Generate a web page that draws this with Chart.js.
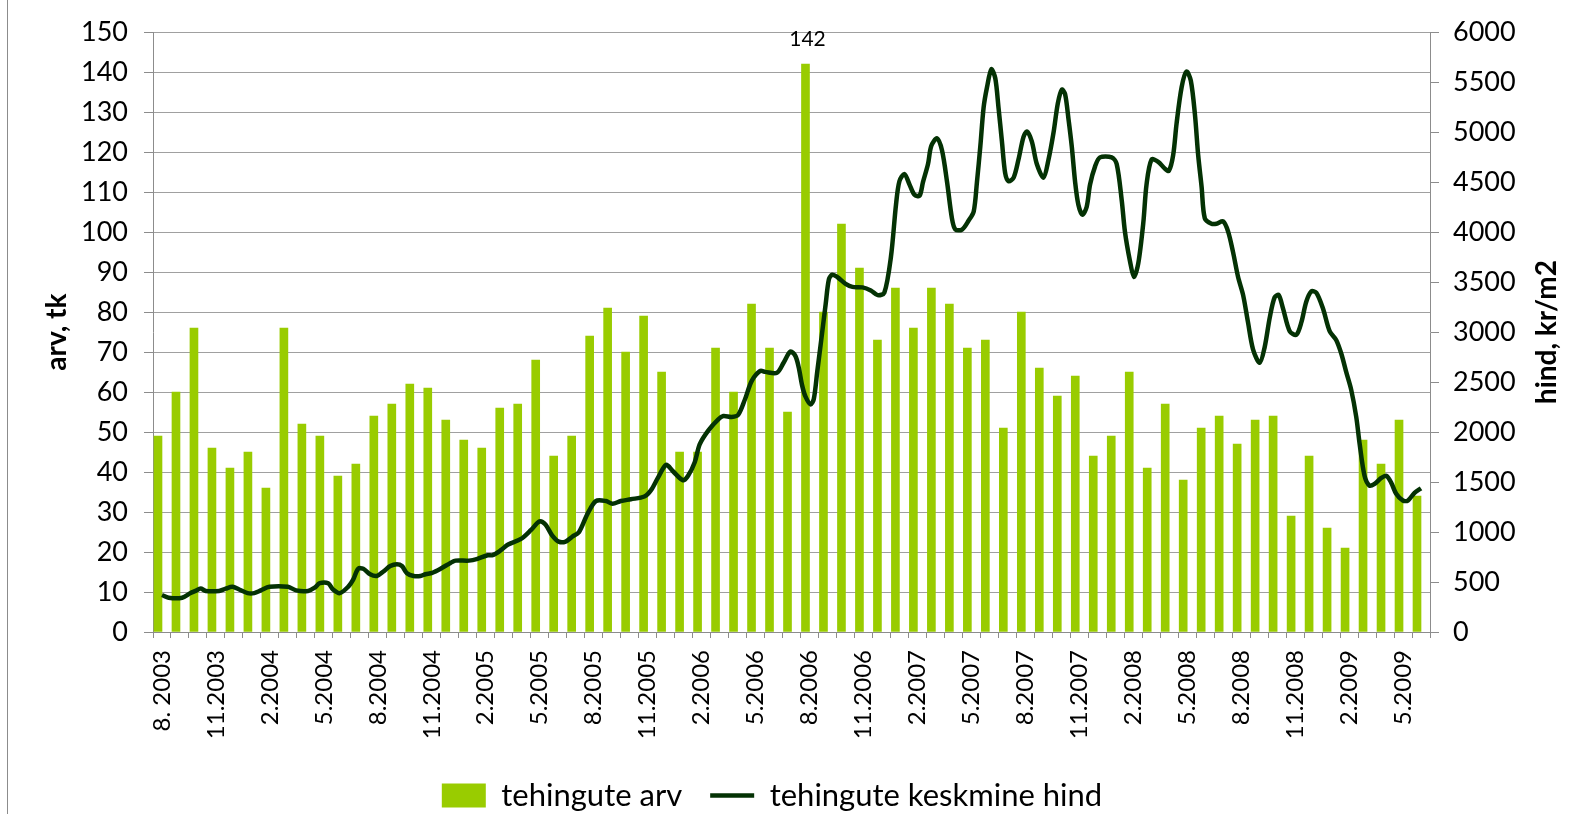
<!DOCTYPE html>
<html>
<head>
<meta charset="utf-8">
<title>tehingute arv ja keskmine hind</title>
<script src="https://cdn.jsdelivr.net/npm/chart.js@4.4.1/dist/chart.umd.min.js"></script>
<style>
  html, body { margin: 0; padding: 0; background: #fff; overflow: hidden; }
  #wrap { position: relative; width: 1582px; height: 814px; }
  #edge { position: absolute; left: 7px; top: 0; width: 1px; height: 814px; background: #8c8c8c; }
  canvas { position: absolute; left: 0; top: 0; }
</style>
</head>
<body>
<div id="wrap">
  <div id="edge"></div>
  <canvas id="myChart" width="1582" height="814"></canvas>
</div>
<script>
// months 8.2003 ... 6.2009
const months = [
  "8. 2003","9.2003","10.2003","11.2003","12.2003",
  "1.2004","2.2004","3.2004","4.2004","5.2004","6.2004","7.2004","8.2004","9.2004","10.2004","11.2004","12.2004",
  "1.2005","2.2005","3.2005","4.2005","5.2005","6.2005","7.2005","8.2005","9.2005","10.2005","11.2005","12.2005",
  "1.2006","2.2006","3.2006","4.2006","5.2006","6.2006","7.2006","8.2006","9.2006","10.2006","11.2006","12.2006",
  "1.2007","2.2007","3.2007","4.2007","5.2007","6.2007","7.2007","8.2007","9.2007","10.2007","11.2007","12.2007",
  "1.2008","2.2008","3.2008","4.2008","5.2008","6.2008","7.2008","8.2008","9.2008","10.2008","11.2008","12.2008",
  "1.2009","2.2009","3.2009","4.2009","5.2009","6.2009"
];

// deals per month
const dealCounts = [
  49, 60, 76, 46, 41,
  45, 36, 76, 52, 49, 39, 42, 54, 57, 62, 61, 53,
  48, 46, 56, 57, 68, 44, 49, 74, 81, 70, 79, 65,
  45, 45, 71, 60, 82, 71, 55, 142, 80, 102, 91, 73,
  86, 76, 86, 82, 71, 73, 51, 80, 66, 59, 64, 44,
  49, 65, 41, 57, 38, 51, 54, 47, 53, 54, 29, 44,
  26, 21, 48, 42, 53, 34
];

// average price, kr/m2 (position in months from 8.2003)
const priceMonth = [
  0, 0.37, 1.12, 1.59, 1.87, 2.15, 2.43, 3.17, 3.54, 3.92, 4.29, 4.76, 5.13, 5.5, 5.97, 7.0, 7.46,
  8.12, 8.49, 8.77, 9.24, 9.51, 9.89, 10.35, 10.63, 10.91, 11.19, 11.57, 11.94, 12.31, 12.69, 13.06,
  13.34, 13.62, 13.99, 14.37, 14.65, 15.02, 15.49, 16.04, 16.32, 17.07, 17.54, 18.1, 18.38, 18.84,
  19.22, 19.96, 20.52, 20.99,
  21.32, 21.69, 22.06, 22.44, 22.81, 23.18, 23.65, 24.12, 24.68, 25.05, 25.51, 26.07, 26.82, 27.19,
  27.57, 28.03, 28.41, 28.97, 29.25, 29.62, 29.9, 30.37, 30.93, 31.21, 31.67, 32.04, 32.42, 32.79,
  33.26, 33.54, 34.19, 34.56, 34.94, 35.22, 35.4, 35.59, 35.78, 36.06, 36.24, 36.43, 36.62, 36.9,
  37.08, 37.27, 37.55, 38.01, 38.39, 38.95, 39.41, 39.79, 40.16, 40.53, 40.81, 41.0, 41.28, 41.56,
  41.84, 42.12, 42.31, 42.59, 42.77, 43.09,
  43.37, 43.65, 43.92, 44.11, 44.48, 44.85, 45.13, 45.31, 45.5, 45.68, 45.87, 46.11, 46.33, 46.51,
  46.7, 46.88, 47.07, 47.35, 47.62, 47.9, 48.09, 48.36, 48.64, 49.01, 49.29, 49.57, 49.81, 50.03,
  50.21, 50.4, 50.58, 50.77, 50.95, 51.17, 51.41, 51.6, 51.88, 52.15, 52.8, 53.08, 53.36, 53.54,
  53.82, 54.04, 54.28, 54.56, 54.74, 55.02, 55.39, 55.76, 55.98, 56.22, 56.41, 56.69, 56.96, 57.2,
  57.43, 57.61, 57.8, 57.98, 58.35, 58.63, 59.0, 59.28, 59.55, 59.83, 60.11, 60.38, 60.66, 61.03,
  61.31, 61.59, 61.86, 62.09, 62.33, 62.7, 63.07, 63.35, 63.62, 63.9, 64.18, 64.55, 64.92, 65.29,
  65.57, 65.84, 66.12, 66.4, 66.59, 66.86, 67.14, 67.42, 67.79, 68.07, 68.34, 68.62, 68.99, 69.27,
  69.64, 70.0
];
const priceValue = [
  370, 343, 343, 389, 411, 434, 411, 411, 434, 452, 425, 389, 389, 416, 452, 452, 416,
  411, 443, 488, 488, 425, 389, 452, 524, 633, 633, 578, 560, 605, 660, 678,
  660, 587, 560, 560, 578, 592, 633, 691, 714, 714, 732, 768, 768, 818,
  872, 931, 1021, 1107,
  1075, 967, 904, 904, 953, 998, 1179, 1310, 1310, 1283, 1310, 1328, 1355, 1419,
  1541, 1672, 1608, 1518, 1563, 1699, 1879, 2015, 2128, 2160, 2151, 2173, 2331, 2512,
  2611, 2602, 2593, 2693, 2806, 2760, 2648, 2467, 2354, 2277, 2331, 2602, 2873, 3280,
  3529, 3574, 3551, 3483, 3452, 3447, 3416, 3370, 3393, 3755, 4274, 4509, 4581, 4477,
  4373, 4364, 4500, 4681, 4861, 4938,
  4816, 4500, 4138, 4026, 4026, 4116, 4206, 4500, 4861, 5245, 5449, 5629, 5539, 5245,
  4907, 4590, 4509, 4545, 4726, 4952, 5006, 4907, 4681, 4545, 4726, 4997, 5290, 5426,
  5381, 5132, 4861, 4500, 4274, 4175, 4252, 4477, 4658, 4748, 4748, 4681, 4319, 4003,
  3709, 3551, 3687, 4093, 4477, 4726, 4703, 4635, 4613, 4771, 5087, 5449, 5607, 5517,
  5178, 4771, 4455, 4138, 4084, 4084, 4107, 4003, 3800, 3551, 3370, 3099, 2828, 2693,
  2851, 3145, 3348, 3370, 3235, 3009, 2973, 3099, 3303, 3407, 3393, 3235, 3009, 2919,
  2783, 2602, 2422, 2151, 1879, 1563, 1464, 1482, 1541, 1563, 1495, 1383, 1315, 1315,
  1392, 1437
];

const countAxis = { min: 0, max: 150, step: 10 };
const priceAxis = { min: 0, max: 6000, step: 500 };

const FONT = "Lato";
const AXIS_GRAY = "#8c8c8c";

// value label over the tallest bar
const peakLabel = {
  id: "peakLabel",
  afterDatasetsDraw(chart) {
    const meta = chart.getDatasetMeta(0);
    const i = dealCounts.indexOf(Math.max(...dealCounts));
    const bar = meta.data[i];
    const ctx = chart.ctx;
    ctx.save();
    ctx.font = "21px " + FONT;
    ctx.fillStyle = "#000";
    ctx.textAlign = "center";
    ctx.textBaseline = "bottom";
    ctx.fillText(String(dealCounts[i]), bar.x + 2, bar.y - 14);
    ctx.restore();
  }
};

// right axis title, reading bottom to top like the left one
const rightTitle = {
  id: "rightTitle",
  afterDraw(chart) {
    const ctx = chart.ctx;
    const area = chart.chartArea;
    ctx.save();
    ctx.translate(chart.width - 35, (area.top + area.bottom) / 2);
    ctx.rotate(-Math.PI / 2);
    ctx.font = "bold 28px " + FONT;
    ctx.fillStyle = "#000";
    ctx.textAlign = "center";
    ctx.textBaseline = "middle";
    ctx.fillText("hind, kr/m2", 0, 0);
    ctx.restore();
  }
};

const ctx = document.getElementById("myChart");
const PLOT_BOTTOM = 632;
const PAD_BOTTOM = -7;

new Chart(ctx, {
  type: "bar",
  data: {
    labels: months,
    datasets: [
      {
        label: "tehingute arv",
        data: dealCounts,
        backgroundColor: "#99cc00",
        borderWidth: 0,
        barThickness: 8,
        xAxisID: "x",
        yAxisID: "y",
        pointStyle: "rect",
        order: 2
      },
      {
        type: "line",
        label: "tehingute keskmine hind",
        data: priceMonth.map((m, i) => ({ x: m, y: priceValue[i] })),
        borderColor: "#043204",
        backgroundColor: "#043204",
        borderWidth: 4.5,
        pointRadius: 0,
        tension: 0.3,
        xAxisID: "xl",
        yAxisID: "y2",
        pointStyle: "line",
        order: 1
      }
    ]
  },
  options: {
    responsive: false,
    devicePixelRatio: 1,
    animation: false,
    layout: { padding: { top: 22, left: 0, right: 38, bottom: PAD_BOTTOM } },
    plugins: {
      tooltip: { enabled: false },
      legend: {
        position: "bottom",
        labels: {
          usePointStyle: true,
          pointStyleWidth: 44,
          boxHeight: 24,
          padding: 28,
          color: "#000",
          font: { family: FONT, size: 31 },
          sort: (a, b) => a.datasetIndex - b.datasetIndex
        }
      }
    },
    scales: {
      x: {
        type: "category",
        offset: true,
        grid: { offset: true, drawOnChartArea: false, tickLength: 6, color: AXIS_GRAY },
        border: { color: AXIS_GRAY },
        ticks: {
          autoSkip: false,
          maxRotation: 90,
          minRotation: 90,
          padding: 12,
          color: "#000",
          font: { family: FONT, size: 24 },
          callback(value, index) {
            return index % 3 === 0 ? this.getLabelForValue(value) : "";
          }
        },
        afterFit(scale) {
          const legend = scale.chart.legend;
          scale.height = scale.chart.height - PAD_BOTTOM - (legend ? legend.height : 0) - PLOT_BOTTOM;
        }
      },
      // hidden month axis for the price line, aligned with the bar categories
      xl: { type: "linear", display: false, offset: false, min: -0.5, max: months.length - 0.5 },
      y: {
        position: "left",
        min: countAxis.min,
        max: countAxis.max,
        ticks: { stepSize: countAxis.step, padding: 16, color: "#000", font: { family: FONT, size: 27 } },
        grid: { color: "#a0a0a0", tickLength: 9, tickColor: AXIS_GRAY },
        border: { color: AXIS_GRAY },
        title: {
          display: true,
          text: "arv, tk",
          color: "#000",
          font: { family: FONT, size: 28, weight: "bold" },
          padding: { top: 40, bottom: 0 }
        },
        afterFit(scale) { scale.width = 153; }
      },
      y2: {
        position: "right",
        min: priceAxis.min,
        max: priceAxis.max,
        ticks: {
          stepSize: priceAxis.step,
          padding: 14,
          color: "#000",
          font: { family: FONT, size: 27 },
          callback: (value) => String(value)
        },
        grid: { drawOnChartArea: false, tickLength: 9, color: AXIS_GRAY },
        border: { color: AXIS_GRAY },
        afterFit(scale) { scale.width = 114; }
      }
    }
  },
  plugins: [peakLabel, rightTitle]
});
</script>
</body>
</html>
